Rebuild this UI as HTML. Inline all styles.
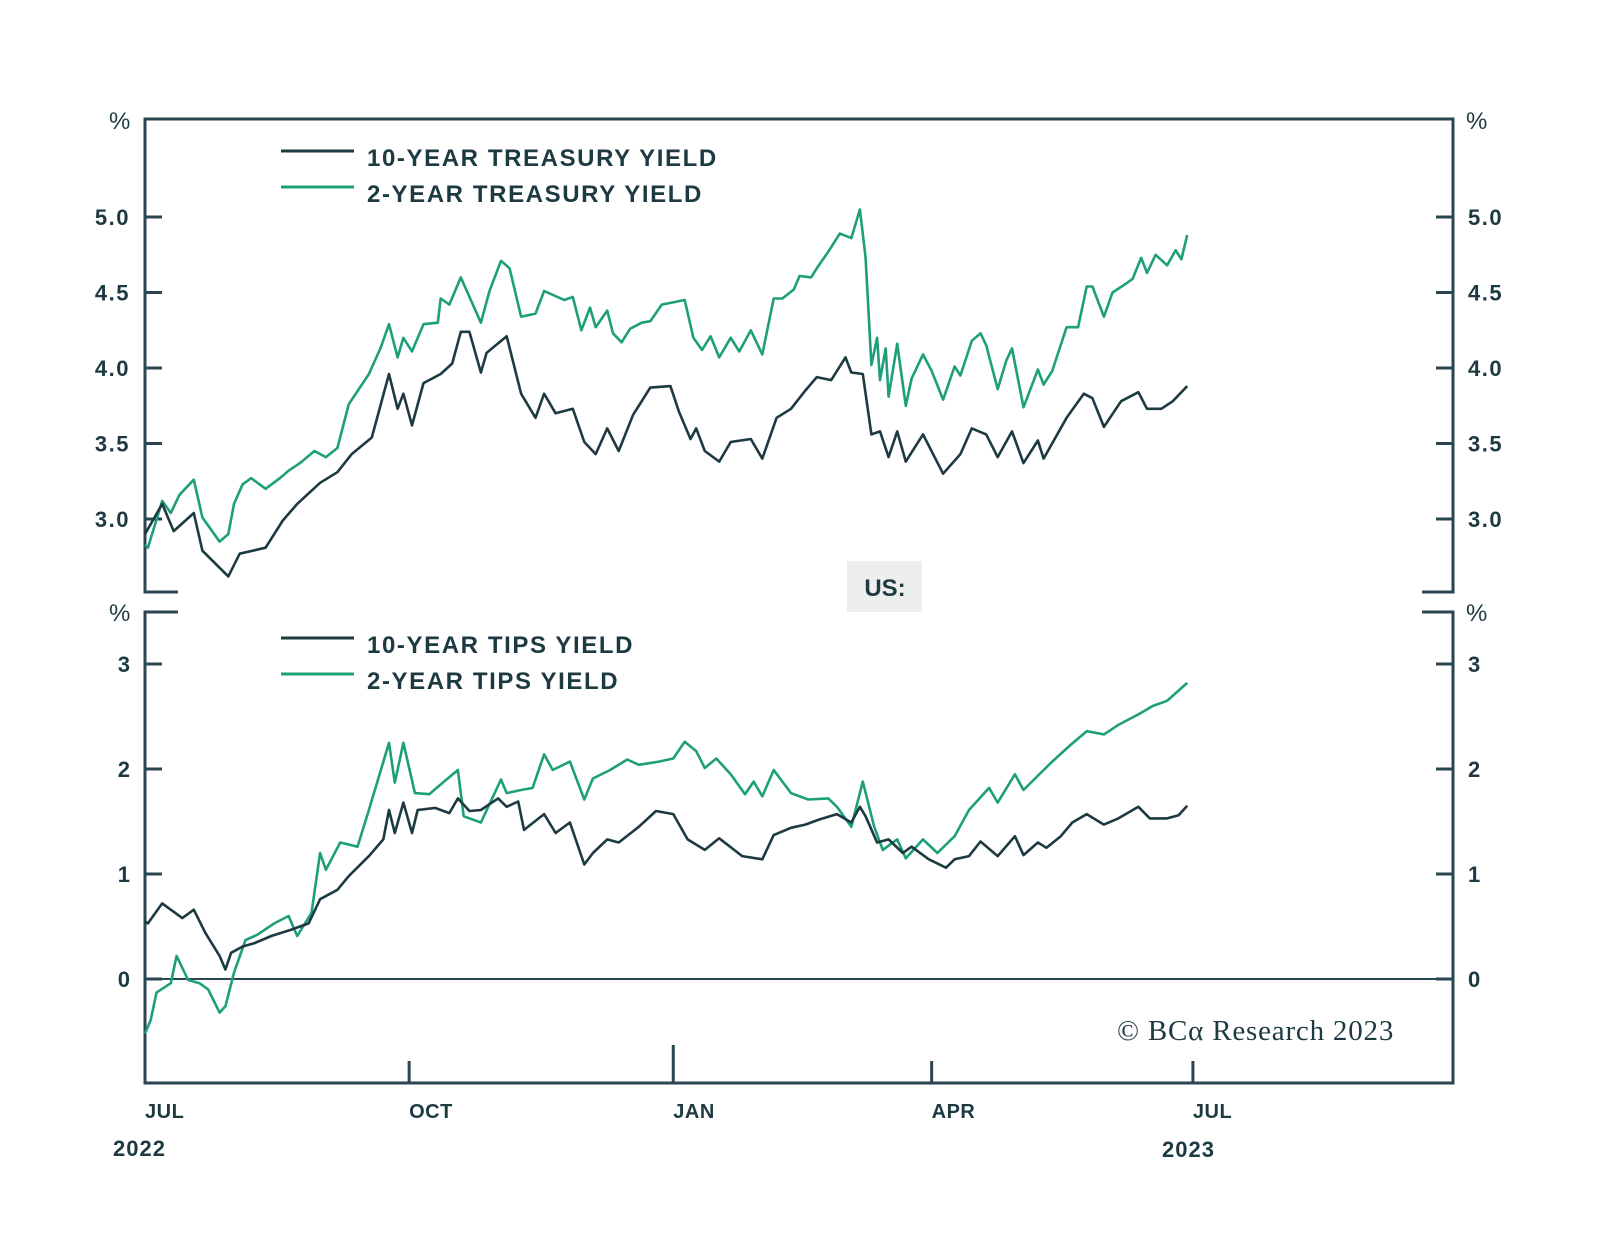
<!DOCTYPE html>
<html><head><meta charset="utf-8"><style>
html,body{margin:0;padding:0;background:#fff;}
svg{display:block;font-family:"Liberation Sans",sans-serif;}
</style></head><body>
<svg id="chart" width="1600" height="1242" viewBox="0 0 1600 1242" xmlns="http://www.w3.org/2000/svg"></svg>
<script>
// ---- data (day offset from 1 Jul 2022, value in %) ----
const t10Days=[0,6,10,17,20,29,33,42,48,53,61,67,72,79,85,88,90,93,97,103,107,110,113,117,119,126,131,136,139,143,149,153,157,161,165,170,176,183,186,190,192,195,200,204,211,215,220,225,230,234,239,244,246,250,253,256,259,262,265,271,278,284,288,293,297,302,306,311,313,321,327,330,334,340,346,349,354,358,363];
const t10Vals=[2.90,3.10,2.92,3.04,2.79,2.62,2.77,2.81,2.99,3.10,3.24,3.31,3.43,3.54,3.96,3.73,3.83,3.62,3.90,3.96,4.03,4.24,4.24,3.97,4.10,4.21,3.83,3.67,3.83,3.70,3.73,3.51,3.43,3.60,3.45,3.69,3.87,3.88,3.71,3.53,3.60,3.45,3.38,3.51,3.53,3.40,3.67,3.73,3.85,3.94,3.92,4.07,3.97,3.96,3.56,3.58,3.41,3.58,3.38,3.56,3.30,3.43,3.60,3.56,3.41,3.58,3.37,3.52,3.40,3.67,3.83,3.80,3.61,3.78,3.84,3.73,3.73,3.78,3.88];
const t2Days=[0,1,6,9,12,17,20,26,29,31,34,37,42,47,50,54,59,63,67,71,78,82,85,88,90,93,97,102,103,106,110,117,120,124,127,131,136,139,146,149,152,155,157,161,163,166,169,173,176,180,188,191,194,197,200,204,207,211,215,219,222,226,228,232,234,238,242,246,249,251,253,255,256,258,259,262,265,267,271,274,278,282,284,288,291,293,297,300,302,306,311,313,316,321,325,328,330,334,337,341,344,347,349,352,356,359,361,363];
const t2Vals=[2.83,2.81,3.12,3.04,3.16,3.26,3.01,2.85,2.90,3.10,3.23,3.27,3.20,3.27,3.32,3.37,3.45,3.41,3.47,3.76,3.96,4.13,4.29,4.07,4.20,4.11,4.29,4.30,4.46,4.42,4.60,4.30,4.51,4.71,4.66,4.34,4.36,4.51,4.45,4.47,4.25,4.40,4.27,4.38,4.23,4.17,4.26,4.30,4.31,4.42,4.45,4.20,4.12,4.21,4.07,4.20,4.11,4.25,4.09,4.46,4.46,4.52,4.61,4.60,4.66,4.77,4.89,4.86,5.05,4.73,4.02,4.20,3.92,4.13,3.81,4.16,3.75,3.93,4.09,3.98,3.79,4.01,3.95,4.18,4.23,4.15,3.86,4.05,4.13,3.74,3.99,3.89,3.98,4.27,4.27,4.54,4.54,4.34,4.50,4.55,4.59,4.73,4.63,4.75,4.68,4.78,4.72,4.88];
const p10Days=[0,1,6,13,17,21,26,28,30,34,38,44,51,57,61,67,71,78,83,85,87,90,93,95,101,106,109,113,117,123,126,130,132,139,143,148,153,156,161,165,172,178,184,189,195,200,208,215,219,225,230,235,241,246,249,251,255,259,264,267,273,279,282,287,291,297,303,306,311,314,319,323,328,334,339,346,350,356,360,363];
const p10Vals=[0.55,0.53,0.72,0.58,0.66,0.44,0.22,0.09,0.25,0.31,0.34,0.41,0.47,0.53,0.76,0.85,0.98,1.17,1.33,1.61,1.39,1.68,1.39,1.61,1.63,1.58,1.72,1.60,1.61,1.72,1.64,1.69,1.42,1.57,1.39,1.49,1.09,1.20,1.33,1.30,1.45,1.60,1.57,1.33,1.23,1.34,1.17,1.14,1.37,1.44,1.47,1.52,1.57,1.49,1.64,1.55,1.30,1.33,1.20,1.26,1.14,1.06,1.14,1.17,1.31,1.17,1.36,1.18,1.30,1.25,1.36,1.49,1.57,1.47,1.53,1.64,1.53,1.53,1.56,1.65];
const p2Days=[0,2,4,9,11,15,19,22,26,28,31,35,39,45,50,53,58,61,63,68,74,78,85,87,90,94,99,105,109,111,117,124,126,131,135,139,142,148,153,156,162,168,172,179,184,188,192,195,199,204,209,212,215,219,225,231,238,241,246,250,254,257,262,265,271,276,282,287,294,297,303,306,316,322,328,334,339,346,351,356,363];
const p2Vals=[-0.52,-0.39,-0.13,-0.04,0.22,-0.01,-0.04,-0.10,-0.32,-0.26,0.06,0.37,0.42,0.53,0.60,0.41,0.63,1.20,1.04,1.30,1.26,1.61,2.25,1.87,2.25,1.77,1.76,1.90,1.99,1.55,1.49,1.90,1.77,1.80,1.82,2.14,1.99,2.07,1.71,1.91,1.99,2.09,2.04,2.07,2.10,2.26,2.17,2.01,2.10,1.95,1.76,1.88,1.74,1.99,1.77,1.71,1.72,1.64,1.45,1.88,1.45,1.23,1.33,1.15,1.33,1.20,1.36,1.61,1.82,1.68,1.95,1.80,2.07,2.22,2.36,2.33,2.42,2.52,2.60,2.65,2.82];
const topTicks=[3.0,3.5,4.0,4.5,5.0];
const topTickLabels=["3.0","3.5","4.0","4.5","5.0"];
const botTicks=[0,1,2,3];
const botTickLabels=["0","1","2","3"];
const monthDays=[0,92,184,274,365];
const monthLabels=["JUL","OCT","JAN","APR","JUL"];

const NS="http://www.w3.org/2000/svg";
const svg=document.getElementById('chart');
const DARK="#1d3a42",GREEN="#1d9f7a",FRAME="#2a4650";
function xs(d){return 145+d*2.871;}
function yTop(v){return 217+(5-v)*151;}
function yBot(v){return 979-v*105;}
function el(tag,attrs,parent){const e=document.createElementNS(NS,tag);for(const k in attrs)e.setAttribute(k,attrs[k]);(parent||svg).appendChild(e);return e;}
function txt(s,x0,y0,opts,name){const t=el('text',Object.assign({x:x0,y:y0,fill:DARK,'font-size':22,'font-weight':'bold'},opts||{}));t.textContent=s;


return t;}

const topFrame=el('path',{d:`M178 592 H145 V119 H1453 V592 H1422`,fill:'none',stroke:FRAME,'stroke-width':3});


const botFrame=el('path',{d:`M178 612 H145 V1083 H1453 V612 H1422`,fill:'none',stroke:FRAME,'stroke-width':3});


const zero=el('line',{x1:145,x2:1453,y1:yBot(0),y2:yBot(0),stroke:FRAME,'stroke-width':2});



topTicks.forEach((v,i)=>{
  const y=yTop(v);
  const a=el('line',{x1:145,x2:162,y1:y,y2:y,stroke:FRAME,'stroke-width':3});
  
  
  const b=el('line',{x1:1436,x2:1453,y1:y,y2:y,stroke:FRAME,'stroke-width':3});
  
  
  txt(topTickLabels[i],130,y+8,{'text-anchor':'end','letter-spacing':1.5},'top-left-tick-label');
  txt(topTickLabels[i],1468,y+8,{'letter-spacing':1.5},'top-right-tick-label');
});
botTicks.forEach((v,i)=>{
  const y=yBot(v);
  const a=el('line',{x1:145,x2:162,y1:y,y2:y,stroke:FRAME,'stroke-width':3});
  
  
  const b=el('line',{x1:1436,x2:1453,y1:y,y2:y,stroke:FRAME,'stroke-width':3});
  
  
  txt(botTickLabels[i],130,y+8,{'text-anchor':'end'},'bottom-left-tick-label');
  txt(botTickLabels[i],1468,y+8,{},'bottom-right-tick-label');
});
txt('%',109,129,{'font-weight':'normal','font-size':24},'top-left-unit');
txt('%',1466,129,{'font-weight':'normal','font-size':24},'top-right-unit');
txt('%',109,621,{'font-weight':'normal','font-size':24},'bottom-left-unit');
txt('%',1466,621,{'font-weight':'normal','font-size':24},'bottom-right-unit');

monthDays.forEach((d,i)=>{
  const xx=xs(d);
  if(d>0){
    const tk=el('line',{x1:xx,x2:xx,y1:d===184?1045:1061,y2:1083,stroke:FRAME,'stroke-width':3});
    
    
  }
  txt(monthLabels[i],xx,1118,{'font-size':20,'letter-spacing':0.5},'x-tick-label');
});
txt('2022',113,1156,{'font-size':22,'letter-spacing':1},'year-label-2022');
txt('2023',1162,1157,{'font-size':22,'letter-spacing':1},'year-label-2023');

const box=el('rect',{x:847,y:561,width:75,height:51,fill:'#eeeeee'});


txt('US:',885,596,{'text-anchor':'middle','font-size':24},'us-label');

function legend(y,color,label,name){
  const l=el('line',{x1:281,x2:354,y1:y,y2:y,stroke:color,'stroke-width':3});
  
  
  txt(label,367,y+15,{'font-size':24,'letter-spacing':1.6},name+'-label');
}
legend(151,DARK,'10-YEAR TREASURY YIELD','legend-10y-treasury');
legend(187,GREEN,'2-YEAR TREASURY YIELD','legend-2y-treasury');
legend(638,DARK,'10-YEAR TIPS YIELD','legend-10y-tips');
legend(674,GREEN,'2-YEAR TIPS YIELD','legend-2y-tips');

function series(days,vals,yf,color,name){
  const d=days.map((dd,i)=>(i?'L':'M')+xs(dd).toFixed(1)+' '+yf(vals[i]).toFixed(1)).join(' ');
  const p=el('path',{d:d,fill:'none',stroke:color,'stroke-width':2.6,'stroke-linejoin':'round'});
  
  
}
series(t2Days,t2Vals,yTop,GREEN,'line-2y-treasury');
series(t10Days,t10Vals,yTop,DARK,'line-10y-treasury');
series(p2Days,p2Vals,yBot,GREEN,'line-2y-tips');
series(p10Days,p10Vals,yBot,DARK,'line-10y-tips');

const c=el('text',{x:1117,y:1040,fill:DARK,'font-size':29,'letter-spacing':0.8,'font-family':'"Liberation Serif",serif'});
c.textContent='© BCα Research 2023';


</script>
</body></html>
